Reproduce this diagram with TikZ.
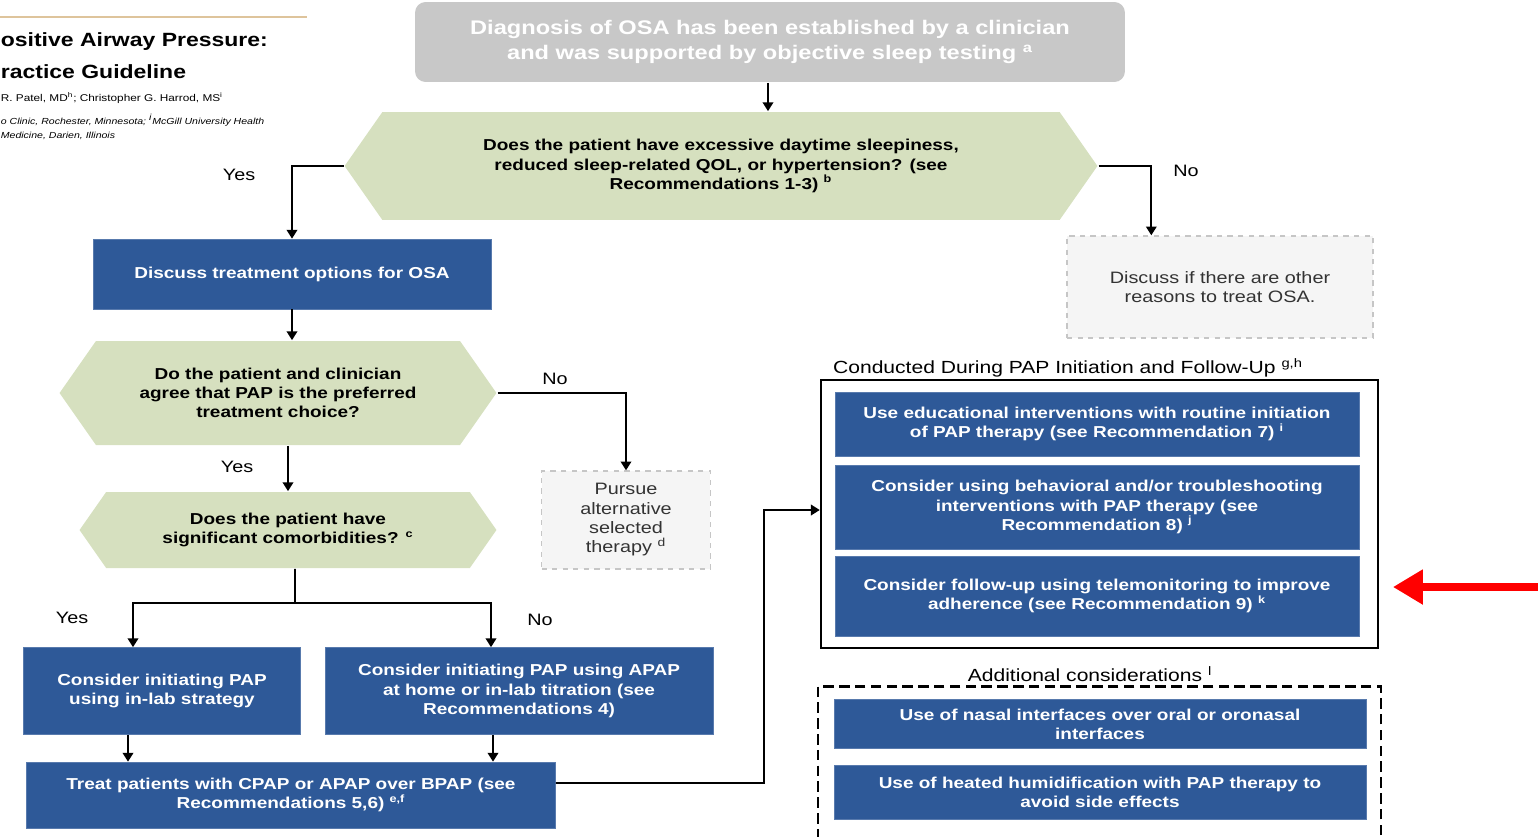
\documentclass[tikz,border=0pt]{standalone}
\usepackage{fontspec}
\setmainfont{Liberation Sans}[FakeStretch=1.2]
\usetikzlibrary{%
  arrows.meta,%
  shapes.symbols,% signal = hexagon
  shapes.misc,%
  positioning,%
  calc%
}
\definecolor{papblue}{RGB}{46,89,152}
\definecolor{hexgreen}{RGB}{214,224,191}
\definecolor{topgray}{RGB}{200,200,200}
\definecolor{headtan}{RGB}{222,196,156}
\newcommand\fsbox{\fontsize{9}{11}\selectfont}
\newcommand\fstop{\fontsize{11.2}{14.5}\selectfont}
\newcommand\fslbl{\fontsize{9.4}{11}\selectfont}

\begin{document}
\begin{tikzpicture}
[x=0.02cm, y=-0.02cm, line width=1pt, >={Triangle[length=5pt,width=6pt]},
topbox/.style={rectangle, rounded corners=6pt, fill=topgray, text=white, align=center, inner sep=0pt, font=\bfseries\fstop},
decision/.style={signal, signal to=west and east, signal pointer angle=110, fill=hexgreen, align=center, inner sep=0pt, font=\bfseries\fsbox},
action/.style={rectangle, fill=papblue, draw=papblue!80!white, line width=0.4pt, text=white, align=center, inner sep=0pt, font=\bfseries\fsbox},
aside/.style={rectangle, dashed, draw=gray!45, fill=gray!8, line width=0.8pt, align=center, inner sep=0pt, text=black!80, font=\fslbl},
lbl/.style={font=\fslbl},
frametitle/.style={font=\fontsize{10}{12}\selectfont}
]
\useasboundingbox (0,0) rectangle (1538,836);

% Article header (cut off at the left)
\draw[draw=headtan, line width=1.2pt] (0,17) -- (307,17);
\node[anchor=west, inner sep=0pt, font=\bfseries\fontsize{10.9}{13}\selectfont] (ttla) at (0,42) {ositive Airway Pressure:};
\node[anchor=west, inner sep=0pt, font=\bfseries\fontsize{10.9}{13}\selectfont] (ttlb) at (0,72) {ractice Guideline};
\node[anchor=west, inner sep=0pt, font=\fontsize{5.6}{7}\selectfont] (auth) at (0,98) {R. Patel, MD\textsuperscript{h}; Christopher G. Harrod, MS\textsuperscript{i}};
\node[anchor=west, inner sep=0pt, font=\itshape\fontsize{5}{6}\selectfont] (affa) at (0,120) {o Clinic, Rochester, Minnesota; \textsuperscript{i}McGill University Health};
\node[anchor=west, inner sep=0pt, font=\itshape\fontsize{5}{6}\selectfont] (affb) at (0,136) {Medicine, Darien, Illinois};

% Main column
\node[topbox, minimum width=14.2cm, minimum height=1.6cm] (diag) at (770,42)
  {Diagnosis of OSA has been established by a clinician\\and was supported by objective sleep testing \textsuperscript{a}};
\node[decision, minimum width=15.06cm, minimum height=2.16cm] (q1) at (721,166)
  {Does the patient have excessive daytime sleepiness,\\reduced sleep-related QOL, or hypertension? (see\\Recommendations 1-3) \textsuperscript{b}};
\node[action, minimum width=7.96cm, minimum height=1.4cm] (discuss) at (292,274) {Discuss treatment options for OSA};
\node[aside, minimum width=6.12cm, minimum height=2.04cm] (other) at (1220,287)
  {Discuss if there are other\\reasons to treat OSA.};
\node[decision, minimum width=8.74cm, minimum height=2.08cm] (q2) at (278,393)
  {Do the patient and clinician\\agree that PAP is the preferred\\treatment choice?};
\node[aside, minimum width=3.38cm, minimum height=1.96cm] (pursue) at (626,520)
  {Pursue\\alternative\\selected\\therapy \textsuperscript{d}};
\node[decision, minimum width=8.34cm, minimum height=1.52cm] (q3) at (288,530)
  {Does the patient have\\significant comorbidities? \textsuperscript{c}};
\node[action, minimum width=5.54cm, minimum height=1.74cm] (inlab) at (162,691)
  {Consider initiating PAP\\using in-lab strategy};
\node[action, minimum width=7.76cm, minimum height=1.74cm] (apap) at (519,691)
  {Consider initiating PAP using APAP\\at home or in-lab titration (see\\Recommendations 4)};
\node[action, minimum width=10.58cm, minimum height=1.32cm] (treat) at (291,795)
  {Treat patients with CPAP or APAP over BPAP (see\\Recommendations 5,6) \textsuperscript{e,f}};

% Yes / No labels
\node[lbl] (yesa) at (239,175) {Yes};
\node[lbl] (noa) at (1186,171) {No};
\node[lbl] (nob) at (555,379) {No};
\node[lbl] (yesb) at (237,467) {Yes};
\node[lbl] (yesc) at (72,618) {Yes};
\node[lbl] (noc) at (540,620) {No};

% Follow-up group
\node[frametitle] (fuptitle) at (1068,368) {Conducted During PAP Initiation and Follow-Up \textsuperscript{g,h}};
\node[draw=black, line width=1.5pt, minimum width=11.14cm, minimum height=5.36cm, inner sep=0pt] (fupframe) at (1099.5,514) {};
\node[action, minimum width=10.48cm, minimum height=1.28cm] (edu) at (1097,424)
  {Use educational interventions with routine initiation\\of PAP therapy (see Recommendation 7) \textsuperscript{i}};
\node[action, minimum width=10.48cm, minimum height=1.68cm] (behav) at (1097,507)
  {Consider using behavioral and/or troubleshooting\\interventions with PAP therapy (see\\Recommendation 8) \textsuperscript{j}};
\node[action, minimum width=10.48cm, minimum height=1.6cm] (tele) at (1097,596)
  {Consider follow-up using telemonitoring to improve\\adherence (see Recommendation 9) \textsuperscript{k}};

% Additional considerations group
\node[frametitle] (addtitle) at (1090,674) {Additional considerations \textsuperscript{l}};
\node[draw=black, line width=1.5pt, dash pattern=on 6pt off 3pt, minimum width=11.26cm, minimum height=3.1cm, inner sep=0pt] (addframe) at (1099.5,764) {};
\node[action, minimum width=10.64cm, minimum height=0.98cm] (nasal) at (1100,724)
  {Use of nasal interfaces over oral or oronasal\\interfaces};
\node[action, minimum width=10.64cm, minimum height=1.08cm] (humid) at (1100,792)
  {Use of heated humidification with PAP therapy to\\avoid side effects};

% Connectors
\draw[->] (diag.south -| 768,0) -- (768,0 |- q1.north);
\draw[->] (q1.west) -| (discuss.north);
\draw[->] (q1.east) -| ([xshift=1.7cm]other.north west);
\draw[->] (discuss.south) -- (discuss.south |- q2.north);
\draw[->] (q2.east) -| (pursue.north);
\draw[->] (q3.north |- q2.south) -- (q3.north);

\coordinate (fork) at (295,603);
\draw ([xshift=0.14cm]q3.south) -- (fork);
\draw[->] (fork) -| ([xshift=-0.58cm]inlab.north);
\draw[->] (fork) -| ([xshift=-0.56cm]apap.north);
\draw[->] ([xshift=-0.68cm]inlab.south) -- ([xshift=-0.68cm]inlab.south |- treat.north);
\draw[->] ([xshift=-0.52cm]apap.south) -- ([xshift=-0.52cm]apap.south |- treat.north);

\coordinate (bend) at (764,783);
\draw[->] ([yshift=0.24cm]treat.east) -- (bend) |- ([yshift=0.08cm]fupframe.west);

% Red pointer
\coordinate (redtail) at (1538,587);
\coordinate (redtip) at (1393,587);
\draw[draw=red, line width=4pt, -{Triangle[length=17pt,width=19pt]}] (redtail) -- (redtip);
\end{tikzpicture}
\end{document}
